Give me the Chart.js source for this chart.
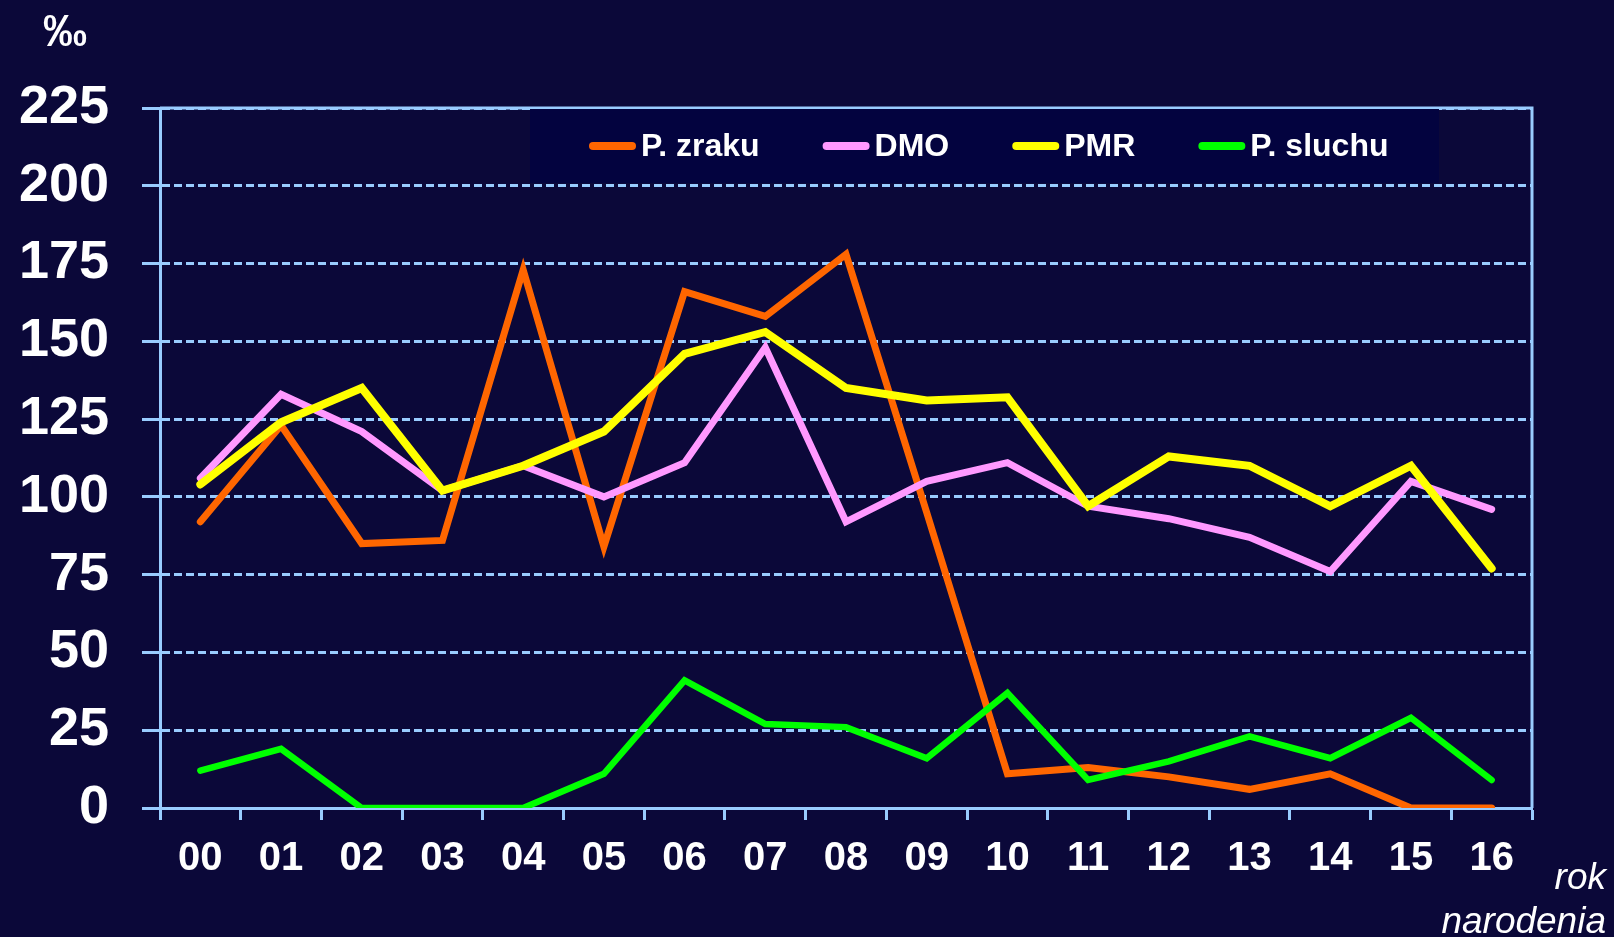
<!DOCTYPE html>
<html>
<head>
<meta charset="utf-8">
<title>Prevalencia podľa roku narodenia</title>
<script src="https://cdn.jsdelivr.net/npm/chart.js@4/dist/chart.umd.min.js"></script>
<style>
    html, body { margin: 0; padding: 0; background: #0b0839; }
    canvas { display: block; }
</style>
</head>
<body>
<canvas id="rokChart" width="1614" height="937"></canvas>
<script>
// Years of birth (two-digit) on the x axis
const roky = ['00', '01', '02', '03', '04', '05', '06', '07', '08', '09', '10', '11', '12', '13', '14', '15', '16'];

// Rates per mille
const zraku  = [92, 123, 85, 86, 173, 84, 166, 158, 178, 95, 11, 13, 10, 6, 11, 0, 0];
const dmo    = [106, 133, 121, 102, 110, 100, 111, 148, 92, 105, 111, 97, 93, 87, 76, 105, 96];
const pmr    = [104, 124, 135, 102, 110, 121, 146, 153, 135, 131, 132, 97, 113, 110, 97, 110, 77];
const sluchu = [12, 19, 0, 0, 0, 11, 41, 27, 26, 16, 37, 9, 15, 23, 16, 29, 9];

const yTicks = [0, 25, 50, 75, 100, 125, 150, 175, 200, 225];

const axisColor = '#99ccff';

// Frame around the plot plus the corner captions
const framePlugin = {
    id: 'frame',
    beforeDatasetsDraw(chart) {
        const { ctx, chartArea: a } = chart;
        ctx.save();
        ctx.strokeStyle = axisColor;
        ctx.lineWidth = 3;
        ctx.beginPath();
        ctx.moveTo(a.left, a.top);
        ctx.lineTo(a.right, a.top);
        ctx.lineTo(a.right, a.bottom);
        ctx.stroke();
        ctx.restore();
    },
    afterDraw(chart) {
        const { ctx } = chart;
        ctx.save();
        ctx.fillStyle = '#ffffff';
        ctx.textAlign = 'center';
        ctx.textBaseline = 'alphabetic';
        ctx.font = 'bold 44px "Liberation Sans", Arial, sans-serif';
        ctx.fillText('‰', 65, 46);
        ctx.textAlign = 'right';
        ctx.font = 'italic 37px "Liberation Sans", Arial, sans-serif';
        ctx.fillText('rok', 1606, 889);
        ctx.fillText('narodenia', 1606, 933);
        ctx.restore();
    }
};

// Legend box drawn inside the top of the plot
const legendBoxPlugin = {
    id: 'legendBox',
    afterDatasetsDraw(chart) {
        const { ctx, chartArea: a } = chart;
        const boxLeft = a.left + 370, boxTop = a.top + 1, boxW = 909, boxH = 74;
        ctx.save();
        ctx.fillStyle = '#03033f';
        ctx.fillRect(boxLeft, boxTop, boxW, boxH);

        ctx.font = 'bold 32px "Liberation Sans", Arial, sans-serif';
        const sample = 47, gapText = 5, gapItem = 63;
        let x = boxLeft + 59;
        const cy = boxTop + boxH / 2;

        chart.data.datasets.forEach(ds => {
            ctx.strokeStyle = ds.borderColor;
            ctx.lineWidth = 8;
            ctx.lineCap = 'round';
            ctx.beginPath();
            ctx.moveTo(x + 4, cy);
            ctx.lineTo(x + sample - 4, cy);
            ctx.stroke();
            ctx.fillStyle = '#ffffff';
            ctx.textAlign = 'left';
            ctx.textBaseline = 'middle';
            ctx.fillText(ds.label, x + sample + gapText, cy + 1);
            x += sample + gapText + ctx.measureText(ds.label).width + gapItem;
        });
        ctx.restore();
    }
};

function series(label, data, color, order, width) {
    return {
        label: label,
        data: data,
        borderColor: color,
        backgroundColor: color,
        borderWidth: width,
        borderCapStyle: 'round',
        borderJoinStyle: 'miter',
        pointRadius: 0,
        tension: 0,
        order: order
    };
}

const ctx = document.getElementById('rokChart').getContext('2d');
new Chart(ctx, {
    type: 'line',
    data: {
        labels: roky,
        datasets: [
            series('P. zraku', zraku, '#ff6600', 4, 7),
            series('DMO', dmo, '#ff99ff', 3, 7),
            series('PMR', pmr, '#ffff00', 2, 8),
            series('P. sluchu', sluchu, '#00ff00', 1, 6.5)
        ]
    },
    options: {
        responsive: false,
        animation: false,
        layout: { padding: { top: 108, right: 82, left: 0, bottom: 0 } },
        plugins: {
            legend: { display: false },
            tooltip: { enabled: false }
        },
        scales: {
            x: {
                offset: true,
                grid: {
                    offset: true,
                    drawOnChartArea: false,
                    drawTicks: true,
                    tickLength: 12,
                    tickWidth: 3,
                    tickColor: axisColor,
                    color: axisColor
                },
                border: { color: axisColor, width: 3 },
                ticks: {
                    color: '#ffffff',
                    padding: 15,
                    maxRotation: 0,
                    autoSkip: false,
                    font: { family: '"Liberation Sans", Arial, sans-serif', size: 40, weight: 'bold' }
                },
                afterFit(scale) { scale.height = 129; }
            },
            y: {
                min: 0,
                max: 225,
                afterBuildTicks(scale) { scale.ticks = yTicks.map(v => ({ value: v })); },
                grid: {
                    color: axisColor,
                    lineWidth: 3,
                    drawTicks: true,
                    tickLength: 18,
                    tickWidth: 3,
                    tickColor: axisColor
                },
                border: { color: axisColor, width: 3, dash: [8, 4] },
                ticks: {
                    color: '#ffffff',
                    padding: 33,
                    font: { family: '"Liberation Sans", Arial, sans-serif', size: 54, weight: 'bold' }
                },
                afterFit(scale) { scale.width = 160; }
            }
        }
    },
    plugins: [framePlugin, legendBoxPlugin]
});
</script>
</body>
</html>
